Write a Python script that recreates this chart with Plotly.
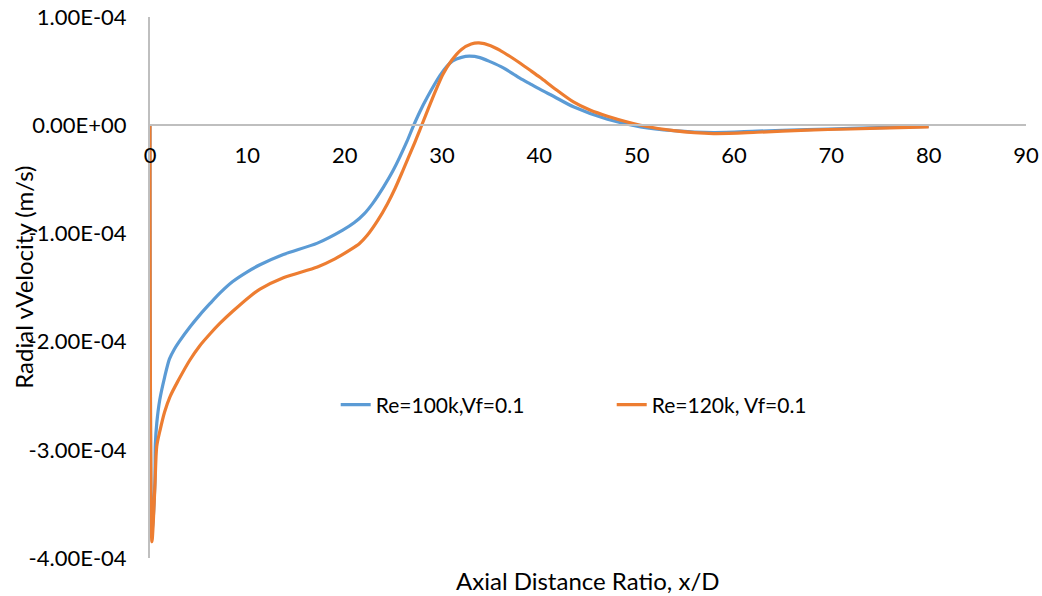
import plotly.graph_objects as go

x_blue = [0, 0.2, 0.5, 0.55, 0.7, 1.0, 1.5, 2.0, 2.5, 3.0, 4.1, 5.1, 6.2, 7.2, 8.5, 10.0, 11.3,
          13.7, 17.2, 19.8, 21.0, 22.0, 22.9, 24.0, 25.0, 26.4, 27.0, 27.7, 28.5, 29.8, 30.5,
          31.1, 32.0, 32.8, 33.9, 35.0, 36.3, 37.3, 38.0, 39.1, 40, 41.5, 43.5, 47, 50.4, 53.8,
          57.9, 62.4, 67.5, 72, 76, 80]
y_blue = [0, -3.8e-4, -3.3e-4, -2.95e-4, -2.75e-4, -2.54e-4, -2.33e-4, -2.16e-4, -2.07e-4,
          -2.0e-4, -1.865e-4, -1.755e-4, -1.645e-4, -1.55e-4, -1.445e-4, -1.355e-4, -1.29e-4,
          -1.195e-4, -1.09e-4, -0.97e-4, -0.90e-4, -0.82e-4, -0.72e-4, -0.57e-4, -0.415e-4,
          -0.15e-4, -0.02e-4, 0.12e-4, 0.26e-4, 0.46e-4, 0.545e-4, 0.595e-4, 0.627e-4, 0.638e-4,
          0.625e-4, 0.585e-4, 0.53e-4, 0.475e-4, 0.435e-4, 0.38e-4, 0.335e-4, 0.265e-4, 0.17e-4,
          0.055e-4, -0.015e-4, -0.05e-4, -0.068e-4, -0.055e-4, -0.04e-4, -0.03e-4, -0.02e-4,
          -0.01e-4]

x_orange = [0, 0.2, 0.5, 0.69, 1.03, 1.5, 2.05, 2.9, 4.1, 5.1, 6.2, 7.2, 8.5, 10.3, 11.3, 13.7,
            17.2, 19.0, 20.6, 21.5, 22.3, 23.4, 24.4, 25.2, 26.0, 27.2, 27.7, 28.8, 30.1, 31.0,
            32.0, 33.0, 33.8, 35.0, 36.0, 37.0, 38.0, 39.1, 40.1, 41.7, 43.5, 45.2, 47, 50.4,
            53.8, 57.9, 62.4, 67.5, 72, 76, 80]
y_orange = [0, -3.85e-4, -3.35e-4, -2.97e-4, -2.82e-4, -2.65e-4, -2.51e-4, -2.36e-4, -2.17e-4,
            -2.04e-4, -1.925e-4, -1.83e-4, -1.72e-4, -1.58e-4, -1.515e-4, -1.41e-4, -1.31e-4,
            -1.235e-4, -1.15e-4, -1.095e-4, -1.02e-4, -0.88e-4, -0.725e-4, -0.58e-4, -0.415e-4,
            -0.16e-4, -0.05e-4, 0.20e-4, 0.47e-4, 0.60e-4, 0.70e-4, 0.75e-4, 0.76e-4, 0.735e-4,
            0.69e-4, 0.635e-4, 0.575e-4, 0.505e-4, 0.44e-4, 0.33e-4, 0.215e-4, 0.14e-4, 0.083e-4,
            0.0, -0.05e-4, -0.077e-4, -0.065e-4, -0.045e-4, -0.035e-4, -0.025e-4, -0.015e-4]

series_names = ["Re=100k,Vf=0.1", "Re=120k, Vf=0.1"]
x_ticks = [0, 10, 20, 30, 40, 50, 60, 70, 80, 90]
y_ticks = [1e-4, 0, -1e-4, -2e-4, -3e-4, -4e-4]
y_ticktext = ["1.00E-04", "0.00E+00", "-1.00E-04", "-2.00E-04", "-3.00E-04", "-4.00E-04"]

FONT = "Lato"
TICK_SIZE = 22
fig = go.Figure()
fig.add_trace(go.Scatter(x=x_blue, y=y_blue, mode="lines", name=series_names[0],
                         line=dict(color="#5B9BD5", width=3.2, shape="spline", smoothing=0.8)))
fig.add_trace(go.Scatter(x=x_orange, y=y_orange, mode="lines", name=series_names[1],
                         line=dict(color="#ED7D31", width=3.2, shape="spline", smoothing=0.8)))

ymin, ymax = -4e-4, 1e-4
zero_pos = (0 - ymin) / (ymax - ymin)

fig.update_layout(
    width=1042, height=596,
    margin=dict(l=150, r=16, t=17, b=38, autoexpand=False),
    paper_bgcolor="white", plot_bgcolor="white",
    font=dict(family=FONT, size=TICK_SIZE, color="#000000"),
    showlegend=True,
    legend=dict(orientation="h", x=0.212, y=0.283, xanchor="left", yanchor="middle",
                entrywidth=231, entrywidthmode="pixels", bgcolor="rgba(0,0,0,0)",
                font=dict(family=FONT, size=21)),
    xaxis=dict(range=[0, 90], tickvals=x_ticks, showgrid=False, zeroline=False,
               showline=True, linecolor="#BFBFBF", linewidth=2, ticks="",
               anchor="free", position=zero_pos, tickfont=dict(size=TICK_SIZE),
               ticklabelstandoff=10, automargin=False),
    yaxis=dict(range=[ymin, ymax], tickvals=y_ticks, ticktext=y_ticktext, showgrid=False,
               zeroline=False, showline=True, linecolor="#BFBFBF", linewidth=2, ticks="",
               tickfont=dict(size=TICK_SIZE), ticklabelstandoff=17, automargin=False),
    annotations=[
        dict(text="Axial Distance Ratio, x/D", xref="paper", yref="paper", x=0.5, y=0,
             yshift=-22, xanchor="center", yanchor="middle", showarrow=False,
             font=dict(size=24)),
        dict(text="Radial vVelocity (m/s)", xref="paper", yref="paper",
             x=(24 - 150) / 876, y=0.518, textangle=-90, xanchor="center", yanchor="middle",
             showarrow=False, font=dict(size=24)),
    ],
)

fig.write_html("out.html")
